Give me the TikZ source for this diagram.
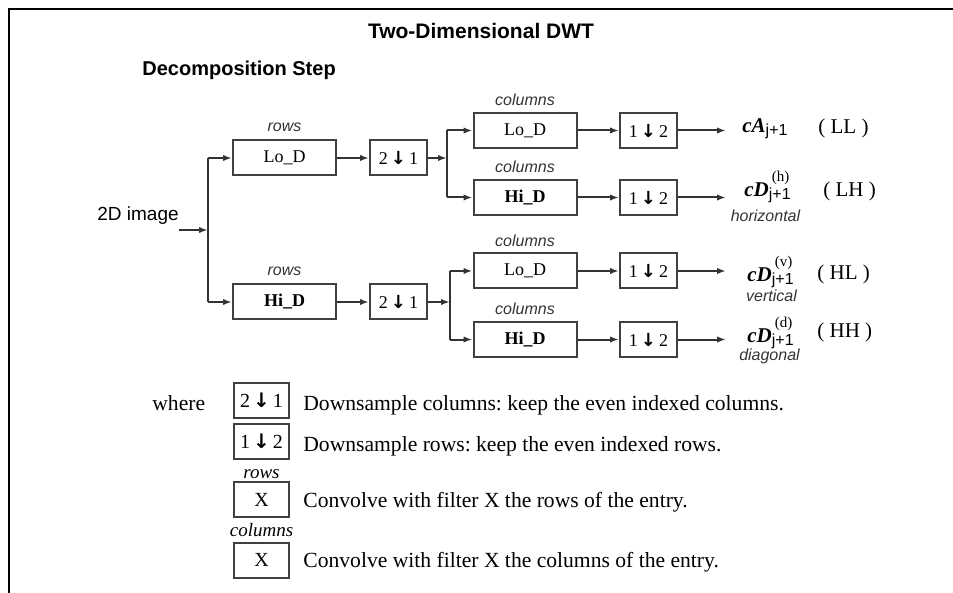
\documentclass[tikz,border=0pt]{standalone}
\usepackage{fontspec}
\setmainfont{Liberation Serif}
\setsansfont{Liberation Sans}
\newfontfamily\arrfont{DejaVu Sans}
\usetikzlibrary{arrows.meta}
\frenchspacing

% small pieces of the output labels
\newcommand{\subj}{\raisebox{-1.5pt}{\fontsize{8}{9}\selectfont\sffamily j+1}}
\newcommand{\supx}[1]{\rlap{\raisebox{7.5pt}{\fontsize{7.5}{8}\selectfont\hspace{1.5pt}(#1)}}}
\newcommand{\dwn}[2]{#1\hspace{1.5pt}{\arrfont\bfseries ↓}\hspace{1.5pt}#2}

\begin{document}
\begin{tikzpicture}[x=0.5pt, y=-0.5pt,
  blk/.style={draw=black!75, line width=1pt, minimum height=17.5pt, inner sep=0pt,
              font=\fontsize{9}{10}\selectfont},
  filt/.style={blk, minimum width=51.5pt},
  dsmp/.style={blk, minimum width=28.5pt},
  lgbox/.style={blk, minimum width=27.5pt, font=\fontsize{10}{11}\selectfont},
  lbl/.style={font=\fontsize{8}{9}\selectfont\sffamily\itshape, inner sep=0pt, text=black!80},
  lglbl/.style={font=\fontsize{9.5}{10}\selectfont\itshape, inner sep=0pt},
  txt/.style={font=\fontsize{10.5}{12}\selectfont, inner sep=0pt, anchor=base west},
  lgtxt/.style={txt, font=\fontsize{10.8}{12}\selectfont},
  wire/.style={line width=1pt, draw=black!80},
  arr/.style={wire, -{Latex[length=4.5pt,width=3.2pt]}}]
  \useasboundingbox (0,0) rectangle (953,593);
  \draw[line width=1pt] (953,9) -- (9,9) -- (9,593);

  \node[font=\fontsize{10.5}{12}\selectfont\sffamily\bfseries, anchor=base, inner sep=0pt] (title) at (481,39) {Two-Dimensional DWT};
  \node[font=\fontsize{10}{12}\selectfont\sffamily\bfseries, anchor=base west, inner sep=0pt] (stp) at (142,76) {Decomposition Step};
  \node[font=\fontsize{9.5}{11}\selectfont\sffamily, anchor=base west, inner sep=0pt] (img) at (97,221) {2D image};

  % rows stage
  \node[filt] (lor) at (284.5,158) {Lo\_D};
  \node[filt] (hir) at (284.5,302) {\textbf{Hi\_D}};
  \node[dsmp] (dr1) at (398.5,158) {\dwn{2}{1}};
  \node[dsmp] (dr2) at (398.5,302) {\dwn{2}{1}};
  \node[lbl, above=3.5pt] at (lor.north) {rows};
  \node[lbl, above=3.5pt] at (hir.north) {rows};

  % columns stage
  \node[filt] (cll) at (525,130.5) {Lo\_D};
  \node[filt] (clh) at (525,197.5) {\textbf{Hi\_D}};
  \node[filt] (chl) at (525,271) {Lo\_D};
  \node[filt] (chh) at (525,339.5) {\textbf{Hi\_D}};
  \foreach \b in {cll,clh,chl,chh}
    \node[lbl, above=2.8pt] at (\b.north) {columns};
  \node[dsmp] (dll) at (648.5,130.5) {\dwn{1}{2}};
  \node[dsmp] (dlh) at (648.5,197.5) {\dwn{1}{2}};
  \node[dsmp] (dhl) at (648.5,271) {\dwn{1}{2}};
  \node[dsmp] (dhh) at (648.5,339.5) {\dwn{1}{2}};

  % outputs
  \coordinate (src) at (179,230);
  \coordinate (ja) at (208,230);
  \coordinate (jb) at (447,158);
  \coordinate (jc) at (450,302);
  \coordinate (oll) at (726,130.5);
  \coordinate (olh) at (726,197.5);
  \coordinate (ohl) at (726,271);
  \coordinate (ohh) at (726,339.5);

  \node[txt] (cA) at (742,133) {\textbf{\textit{cA}}\subj};
  \node[txt] (cDh) at (744,197) {\textbf{\textit{cD}}\supx{h}\subj};
  \node[txt] (cDv) at (747,282) {\textbf{\textit{cD}}\supx{v}\subj};
  \node[txt] (cDd) at (747,343) {\textbf{\textit{cD}}\supx{d}\subj};
  \node[lbl, anchor=base] at (765.5,222) {horizontal};
  \node[lbl, anchor=base] at (771.5,301) {vertical};
  \node[lbl, anchor=base] at (769.5,360) {diagonal};
  \node[txt] (ll) at (818,134) {( LL )};
  \node[txt] (lh) at (823,197) {( LH )};
  \node[txt] (hl) at (817,280) {( HL )};
  \node[txt] (hh) at (817,337) {( HH )};

  % connectors
  \draw[arr] (src) -- (ja);
  \draw[wire] (lor.west -| ja) -- (hir.west -| ja);
  \draw[arr] (lor.west -| ja) -- (lor.west);
  \draw[arr] (hir.west -| ja) -- (hir.west);
  \draw[arr] (lor) -- (dr1);
  \draw[arr] (hir) -- (dr2);
  \draw[arr] (dr1.east) -- (jb);
  \draw[arr] (dr2.east) -- (jc);
  \draw[wire] (cll.west -| jb) -- (clh.west -| jb);
  \draw[wire] (chl.west -| jc) -- (chh.west -| jc);
  \draw[arr] (cll.west -| jb) -- (cll.west);
  \draw[arr] (clh.west -| jb) -- (clh.west);
  \draw[arr] (chl.west -| jc) -- (chl.west);
  \draw[arr] (chh.west -| jc) -- (chh.west);
  \draw[arr] (cll) -- (dll);
  \draw[arr] (clh) -- (dlh);
  \draw[arr] (chl) -- (dhl);
  \draw[arr] (chh) -- (dhh);
  \draw[arr] (dll) -- (oll);
  \draw[arr] (dlh) -- (olh);
  \draw[arr] (dhl) -- (ohl);
  \draw[arr] (dhh) -- (ohh);

  % legend
  \node[lgtxt] (where) at (152,410) {where};
  \node[lgbox] (lg1) at (261.5,400.5) {\dwn{2}{1}};
  \node[lgbox] (lg2) at (261.5,441.5) {\dwn{1}{2}};
  \node[lgbox] (lg3) at (261.5,499.5) {X};
  \node[lgbox] (lg4) at (261.5,560) {X};
  \node[lglbl, above=1pt] at (lg3.north) {rows};
  \node[lglbl, above=2pt] at (lg4.north) {columns};
  \node[lgtxt] (lt1) at (303,410) {Downsample columns: keep the even indexed columns.};
  \node[lgtxt] (lt2) at (303,451) {Downsample rows: keep the even indexed rows.};
  \node[lgtxt] (lt3) at (303,507) {Convolve with filter X the rows of the entry.};
  \node[lgtxt] (lt4) at (303,567) {Convolve with filter X the columns of the entry.};
\end{tikzpicture}
\end{document}
